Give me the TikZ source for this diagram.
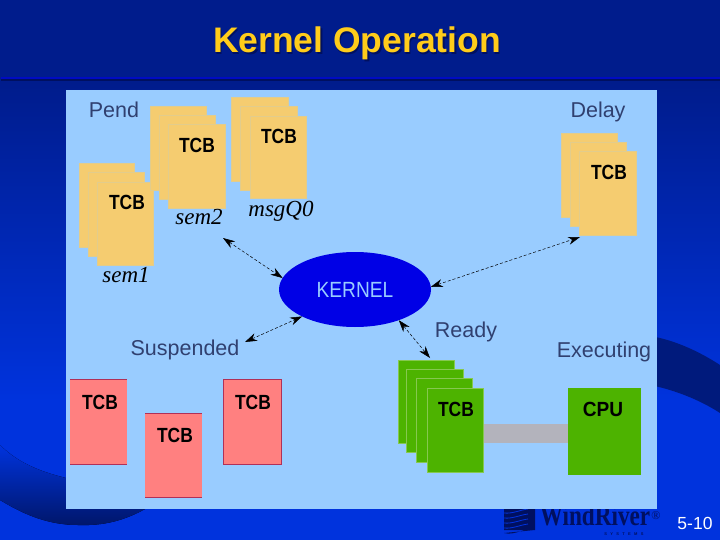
\documentclass[tikz,border=0pt]{standalone}
\usepackage{graphicx}
\usepackage{fontspec}
\setmainfont{Liberation Sans}
\newfontfamily\ital{Liberation Serif}
\usetikzlibrary{arrows.meta,shapes.geometric}
\definecolor{navy}{HTML}{001C8C}
\definecolor{bright}{HTML}{0033DD}
\definecolor{panelblue}{HTML}{99CCFF}
\definecolor{cardorange}{HTML}{F5CC70}
\definecolor{cardedge}{HTML}{E2CC8C}
\definecolor{cardpink}{HTML}{FF8080}
\definecolor{pinkedge}{HTML}{B03058}
\definecolor{cardgreen}{HTML}{4DB300}
\definecolor{greenedge}{HTML}{86C850}
\definecolor{kernelblue}{HTML}{0000E6}
\definecolor{barcol}{HTML}{B3B3BC}
\definecolor{titlegold}{HTML}{FFCC1A}
\definecolor{logonavy}{HTML}{001060}
\definecolor{swoosh}{HTML}{001A7C}
\definecolor{thintext}{HTML}{304070}
\newcommand{\cardbox}[6]{%
  \pgfmathsetmacro{\cx}{(#3+#5)/2}\pgfmathsetmacro{\cy}{(#4+#6)/2}%
  \pgfmathsetmacro{\cw}{#5-#3}\pgfmathsetmacro{\ch}{#6-#4}%
  \node[#1,minimum width=\cw pt,minimum height=\ch pt] (#2) at (\cx,\cy) {};}
\tikzset{
  cardbase/.style={rectangle,inner sep=0pt,outer sep=0pt},
  orangecard/.style={cardbase,fill=cardorange,draw=cardedge,line width=.5pt},
  pinkcard/.style={cardbase,fill=cardpink},
  pinkframe/.style={cardbase,fill=cardpink,draw=pinkedge,line width=.7pt},
  greencard/.style={cardbase,fill=cardgreen,draw=greenedge,line width=.5pt},
  cpubox/.style={cardbase,fill=cardgreen},
  barbox/.style={cardbase,fill=barcol},
  tcblabel/.style={anchor=base,inner sep=0pt,font=\fontsize{20.5}{24}\selectfont\bfseries},
  statelabel/.style={anchor=base,inner sep=0pt,text=thintext,font=\fontsize{21.5}{24}\selectfont},
  qlabel/.style={anchor=base,inner sep=0pt,font=\fontsize{23}{26}\ital\itshape},
  biarrow/.style={densely dashed,line width=.5pt,black,
    {Stealth[length=12pt,width=8pt]}-{Stealth[length=12pt,width=8pt]}},
  pinkline/.style={pinkedge,line width=.7pt}
}
\newcommand{\tcbtext}{\scalebox{.85}[1]{TCB}}
\begin{document}
\begin{tikzpicture}[x=1pt,y=-1pt]
\useasboundingbox (0,0) rectangle (720,540);
% slide background
\fill[navy] (0,0) rectangle (720,82);
\shade[top color=navy,bottom color=bright] (0,82) rectangle (720,400);
\fill[bright] (0,400) rectangle (720,540);
\fill[bottom color=swoosh!85!black,top color=bright]
  (0,445) .. controls (20,465) and (45,473) .. (70,479)
  .. controls (100,486) and (130,500) .. (145,509)
  .. controls (125,520) and (105,526) .. (78,525)
  .. controls (45,525) and (20,512) .. (0,500) -- cycle;
\fill[swoosh] (650,336) .. controls (675,340) and (700,352) .. (720,365)
  -- (720,413) .. controls (700,400) and (675,390) .. (650,385) -- cycle;
\fill[black!10!blue!60!navy] (1,77) rectangle (720,79.2);
\fill[logonavy] (1,79.2) rectangle (720,81.5);
% logo
\fill[logonavy] (504,505) rectangle (535,530)
  .. controls (525,527) and (515,536) .. (504,533) -- cycle;
\foreach \yy in {512,517,522,527}
  \draw[bright,line width=.8pt] (504,\yy+1) .. controls (512,\yy+2) and (520,\yy-2) .. (528,\yy-3);
\node[anchor=base,inner sep=0pt,text=logonavy] (logotext) at (595,525)
  {\scalebox{.8}[1]{\fontsize{29}{30}\ital\bfseries WindRiver}};
\node[anchor=base,inner sep=0pt,text=logonavy] (logoreg) at (656,519)
  {\fontsize{12}{13}\ital ®};
\node[anchor=base,inner sep=0pt,text=logonavy] (logosys) at (624,535)
  {\fontsize{4}{5}\selectfont\bfseries S\ \ \ Y\ \ \ S\ \ \ T\ \ \ E\ \ \ M\ \ \ S};
% panel
\fill[panelblue] (66,90) rectangle (657,509);
% title
\node[anchor=base,inner sep=0pt,text=logonavy,font=\fontsize{35.5}{38}\selectfont\bfseries] (titleshadow) at (358.5,54.5) {Kernel Operation};
\node[anchor=base,inner sep=0pt,text=titlegold,font=\fontsize{35.5}{38}\selectfont\bfseries] (title) at (357,53) {Kernel Operation};
% orange stacks
\cardbox{orangecard}{semOneA}{79}{163}{134}{247}
\cardbox{orangecard}{semOneB}{88}{172}{144}{256}
\cardbox{orangecard}{semOneC}{97}{182}{153}{265}
\cardbox{orangecard}{semTwoA}{150}{106}{206}{190}
\cardbox{orangecard}{semTwoB}{159}{115}{215}{199}
\cardbox{orangecard}{semTwoC}{168}{124}{225}{208}
\cardbox{orangecard}{msgA}{231}{97}{288}{181}
\cardbox{orangecard}{msgB}{240}{106}{297}{190}
\cardbox{orangecard}{msgC}{250}{116}{306}{198}
\cardbox{orangecard}{delayA}{561}{133}{617}{217}
\cardbox{orangecard}{delayB}{570}{142}{626}{226}
\cardbox{orangecard}{delayC}{579}{151}{636}{235}
% pink
\cardbox{pinkcard}{susA}{70}{379}{127}{464}
\cardbox{pinkcard}{susB}{145}{413}{202}{497}
\cardbox{pinkframe}{susC}{223}{379}{281}{464}
\draw[pinkline] (susA.north west) -- (susA.north east);
\draw[pinkline] (susA.south west) -- (susA.south east);
\draw[pinkline] (susB.north west) -- (susB.north east);
\draw[pinkline] (susB.south west) -- (susB.south east);
% green
\cardbox{barbox}{bar}{483}{424}{568}{443}
\cardbox{greencard}{readyA}{398}{360}{454}{443}
\cardbox{greencard}{readyB}{406}{369}{463}{452}
\cardbox{greencard}{readyC}{416}{378}{472}{462}
\cardbox{greencard}{readyD}{427}{388}{483}{472}
\cardbox{cpubox}{cpu}{568}{388}{641}{475}
% kernel
\node[ellipse,fill=kernelblue,inner sep=0pt,outer sep=0pt,minimum width=152pt,minimum height=75pt] (kernel) at (355,289.5) {};
\node[anchor=base,inner sep=0pt,text=panelblue,font=\fontsize{22}{24}\selectfont] (kerneltext) at (355,297) {\scalebox{.87}[1]{KERNEL}};
% TCB labels
\node[tcblabel] (t1) at (127,210) {\tcbtext};
\node[tcblabel] (t2) at (197,153) {\tcbtext};
\node[tcblabel] (t3) at (279,144) {\tcbtext};
\node[tcblabel] (t4) at (609,180) {\tcbtext};
\node[tcblabel] (t5) at (100,409) {\tcbtext};
\node[tcblabel] (t6) at (175,442) {\tcbtext};
\node[tcblabel] (t7) at (253,409) {\tcbtext};
\node[tcblabel] (t8) at (456,416) {\tcbtext};
\node[tcblabel] (t9) at (603,416) {\scalebox{.93}[1]{CPU}};
% state labels
\node[statelabel] (pend) at (114,118) {Pend};
\node[statelabel] (delay) at (598,118) {Delay};
\node[statelabel] (suspended) at (185,355) {Suspended};
\node[statelabel] (ready) at (466,337) {Ready};
\node[statelabel] (executing) at (604,357) {Executing};
\node[qlabel] (sem1) at (126,282) {sem1};
\node[qlabel] (sem2) at (199,225) {sem2};
\node[qlabel] (msgq) at (281,217) {msgQ0};
% connectors
\coordinate (endA) at (223,238);
\coordinate (endB) at (580,237);
\coordinate (endC) at (245,342);
\coordinate (endD) at (430,358);
\draw[biarrow] (endA) -- (kernel.171);
\draw[biarrow] (kernel.2) -- (endB);
\draw[biarrow] (endC) -- (kernel.207);
\draw[biarrow] (kernel.-35) -- (endD);
% page number
\node[anchor=base,inner sep=0pt,text=white,font=\fontsize{17.5}{20}\selectfont] (pageno) at (695,529) {5-10};
\end{tikzpicture}
\end{document}
